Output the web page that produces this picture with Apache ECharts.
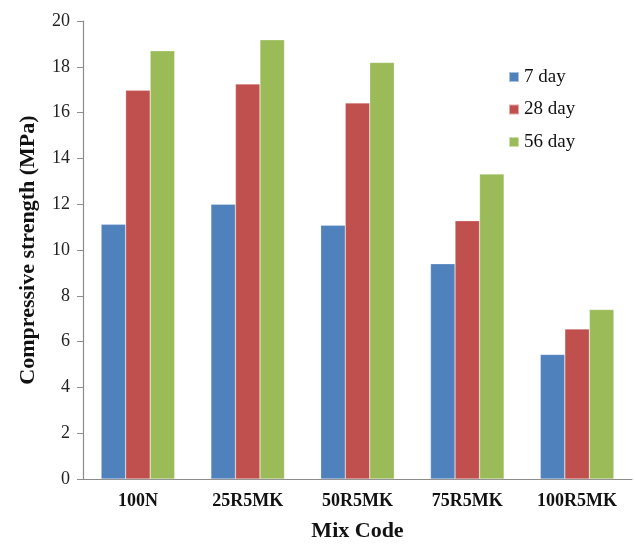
<!DOCTYPE html>
<html>
<head>
<meta charset="utf-8">
<script src="https://cdn.jsdelivr.net/npm/echarts@6/dist/echarts.min.js"></script>
<style>
  html, body { margin: 0; padding: 0; background: #fff; width: 100%; height: 100%; overflow: hidden; }
  #chart { width: 635px; height: 547px; }
</style>
</head>
<body>
<div id="chart"></div>
<script>
// Mix codes along the horizontal axis
const mixCodes = ['100N', '25R5MK', '50R5MK', '75R5MK', '100R5MK'];
// Compressive strength (MPa) at each curing age
const day7 = [11.12, 12.0, 11.08, 9.4, 5.44];
const day28 = [16.98, 17.25, 16.42, 11.28, 6.55];
const day56 = [18.7, 19.18, 18.19, 13.32, 7.4];
const seriesNames = ['7 day', '28 day', '56 day'];
const yTicks = { min: 0, max: 20, interval: 2 };

const serif = '"Liberation Serif", "Times New Roman", serif';
const colors = ['#4F81BD', '#C0504D', '#9BBB59'];

const chart = echarts.init(document.getElementById('chart'));
const barSeries = [day7, day28, day56].map((vals, i) => ({
  name: seriesNames[i],
  type: 'bar',
  data: vals,
  barGap: '0%',
  barCategoryGap: '33%',
  itemStyle: { color: colors[i], borderColor: 'rgba(255,255,255,0.5)', borderWidth: 0.5 }
}));

chart.setOption({
  animation: false,
  backgroundColor: '#fff',
  grid: { left: 83, right: 3, top: 21, bottom: 62, containLabel: false },
  legend: {
    orient: 'vertical',
    left: 503,
    top: 61,
    itemWidth: 10,
    itemHeight: 10,
    itemGap: 10.5,
    icon: 'rect',
    textStyle: { fontFamily: serif, fontSize: 19, lineHeight: 22, color: '#111', padding: [0, 0, 0, 0] },
    data: seriesNames
  },
  xAxis: {
    type: 'category',
    data: mixCodes,
    name: 'Mix Code',
    nameLocation: 'middle',
    nameGap: 41,
    nameTextStyle: { fontFamily: serif, fontSize: 22, fontWeight: 'bold', color: '#111' },
    axisLine: { lineStyle: { color: '#8c8c8c', width: 1.2 } },
    axisTick: { show: false },
    axisLabel: { fontFamily: serif, fontSize: 18, fontWeight: 'bold', color: '#111', margin: 13 }
  },
  yAxis: {
    type: 'value',
    min: yTicks.min,
    max: yTicks.max,
    interval: yTicks.interval,
    name: 'Compressive strength (MPa)',
    nameLocation: 'middle',
    nameGap: 44,
    nameTextStyle: { fontFamily: serif, fontSize: 22, fontWeight: 'bold', color: '#111' },
    axisLine: { show: true, lineStyle: { color: '#8c8c8c', width: 1.2 } },
    axisTick: { show: true, length: 6, lineStyle: { color: '#8c8c8c' } },
    splitLine: { show: false },
    axisLabel: { fontFamily: serif, fontSize: 18, color: '#222', margin: 13 }
  },
  series: barSeries
});
</script>
</body>
</html>
